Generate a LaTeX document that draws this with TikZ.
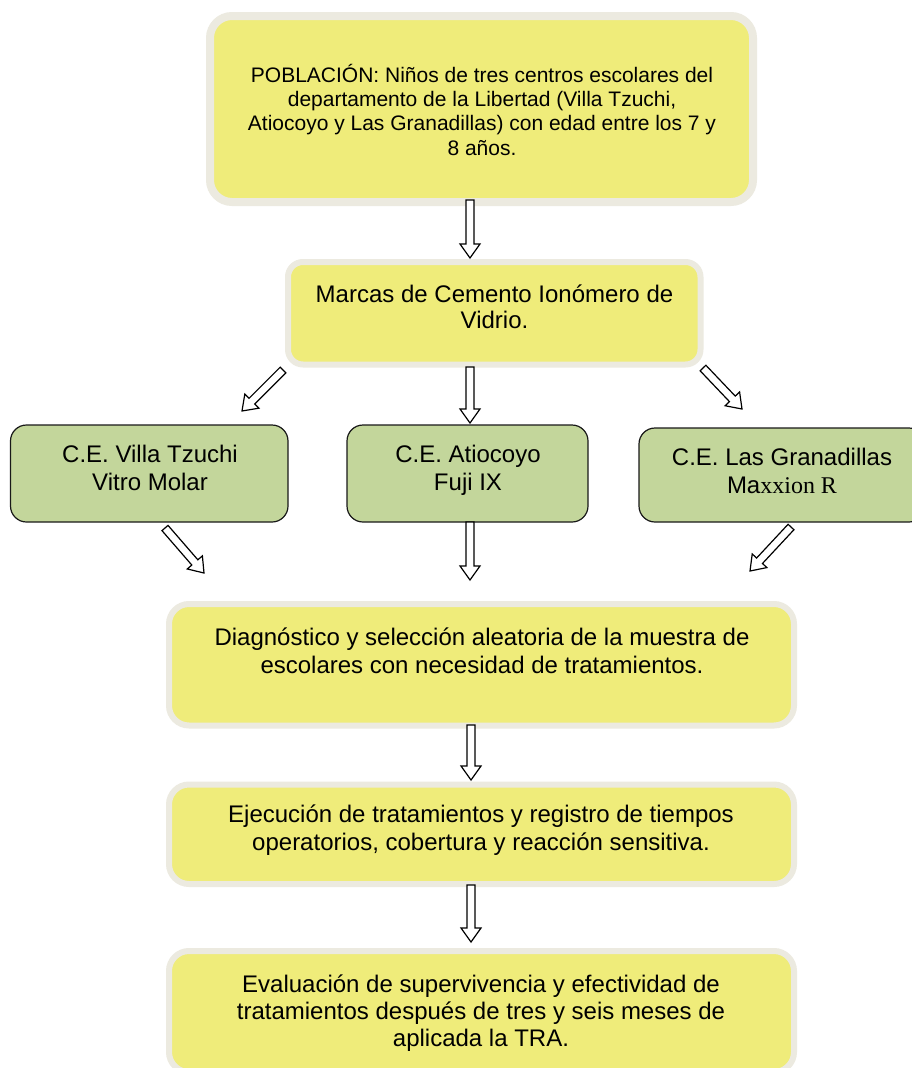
\documentclass[tikz,border=0pt]{standalone}
\usepackage{fontspec}
\setmainfont{Liberation Sans}
\newfontfamily\tnr{Liberation Serif}
\usetikzlibrary{calc}
\definecolor{yfill}{RGB}{239,236,122}
\definecolor{yborder}{RGB}{236,234,224}
\definecolor{gfill}{RGB}{195,214,155}
\tikzset{
  ybox/.style={draw=yborder, line width=6pt, fill=yfill, rounded corners=20pt, inner sep=0pt},
  gbox/.style={draw=black!90, line width=1.2pt, fill=gfill, rounded corners=16pt, inner sep=0pt},
  txt/.style={align=center, inner sep=0pt, anchor=base, font=\fontsize{24}{27.5}\selectfont},
  barrowline/.style={draw=black, line width=1.2pt, fill=white, line join=miter}
}
\newcommand\blockarrow[2]{%
  \path ($(#2)!14pt!(#1)$) coordinate (bh);
  \draw[barrowline] ($(#1)!4pt!90:(#2)$) -- ($(bh)!4pt!90:(#2)$) -- ($(bh)!10pt!90:(#2)$)
    -- (#2) -- ($(bh)!10pt!-90:(#2)$) -- ($(bh)!4pt!-90:(#2)$) -- ($(#1)!4pt!-90:(#2)$) -- cycle;
}
\begin{document}
\begin{tikzpicture}[x=1pt,y=-1pt]
\useasboundingbox (0,0) rectangle (912,1068);
\fill[white] (0,0) rectangle (912,1068);

% boxes
\node[ybox, line width=8pt, rounded corners=22pt, minimum width=543pt, minimum height=186pt] (pob) at (481.5,109) {};
\node[ybox, rounded corners=15pt, minimum width=412.5pt, minimum height=102.5pt] (mar) at (494.25,313.25) {};
\node[gbox, minimum width=277.5pt, minimum height=97pt] (g1) at (149.25,473.5) {};
\node[gbox, minimum width=241pt, minimum height=97pt] (g2) at (467.5,473.5) {};
\node[gbox, minimum width=286pt, minimum height=94pt] (g3) at (782,475) {};
\node[ybox, minimum width=625pt, minimum height=121.5pt] (dia) at (481.5,664.75) {};
\node[ybox, minimum width=625pt, minimum height=99.5pt] (eje) at (481.5,834.25) {};
\node[ybox, minimum width=625pt, minimum height=121pt] (eva) at (481.5,1011.5) {};

% texts (anchor base = baseline of the last line)
\node[txt, font=\fontsize{21}{24.3}\selectfont] (tpob) at (482,155) {POBLACIÓN: Niños de tres centros escolares del\\departamento de la Libertad (Villa Tzuchi,\\Atiocoyo y Las Granadillas) con edad entre los 7 y\\8 años.};
\node[txt, font=\fontsize{24}{26}\selectfont] (tmar) at (494.5,328) {Marcas de Cemento Ionómero de\\Vidrio.};
\node[txt] (tg1) at (150,490) {C.E. Villa Tzuchi\\Vitro Molar};
\node[txt] (tg2) at (468,490) {C.E. Atiocoyo\\Fuji IX};
\node[txt] (tg3) at (782,493) {C.E. Las Granadillas\\Ma{\tnr xxion R}};
\node[txt] (tdia) at (482,673) {Diagnóstico y selección aleatoria de la muestra de\\escolares con necesidad de tratamientos.};
\node[txt] (teje) at (481,850) {Ejecución de tratamientos y registro de tiempos\\operatorios, cobertura y reacción sensitiva.};
\node[txt, font=\fontsize{24}{27}\selectfont] (teva) at (481,1046) {Evaluación de supervivencia y efectividad de\\tratamientos después de tres y seis meses de\\aplicada la TRA.};

% arrow end points
\coordinate (a1s) at (470,200);  \coordinate (a1e) at (470,258);
\coordinate (a2s) at (283,370);  \coordinate (a2e) at (242,411);
\coordinate (a3s) at (470,367);  \coordinate (a3e) at (470,423);
\coordinate (a4s) at (703,368);  \coordinate (a4e) at (742,409);
\coordinate (a5s) at (165,528);  \coordinate (a5e) at (204,573);
\coordinate (a6s) at (470,522);  \coordinate (a6e) at (470,580);
\coordinate (a7s) at (791,527);  \coordinate (a7e) at (750,571);
\coordinate (a8s) at (471,725);  \coordinate (a8e) at (471,780);
\coordinate (a9s) at (471,885);  \coordinate (a9e) at (471,942);

\blockarrow{a1s}{a1e}
\blockarrow{a2s}{a2e}
\blockarrow{a3s}{a3e}
\blockarrow{a4s}{a4e}
\blockarrow{a5s}{a5e}
\blockarrow{a6s}{a6e}
\blockarrow{a7s}{a7e}
\blockarrow{a8s}{a8e}
\blockarrow{a9s}{a9e}
\end{tikzpicture}
\end{document}
